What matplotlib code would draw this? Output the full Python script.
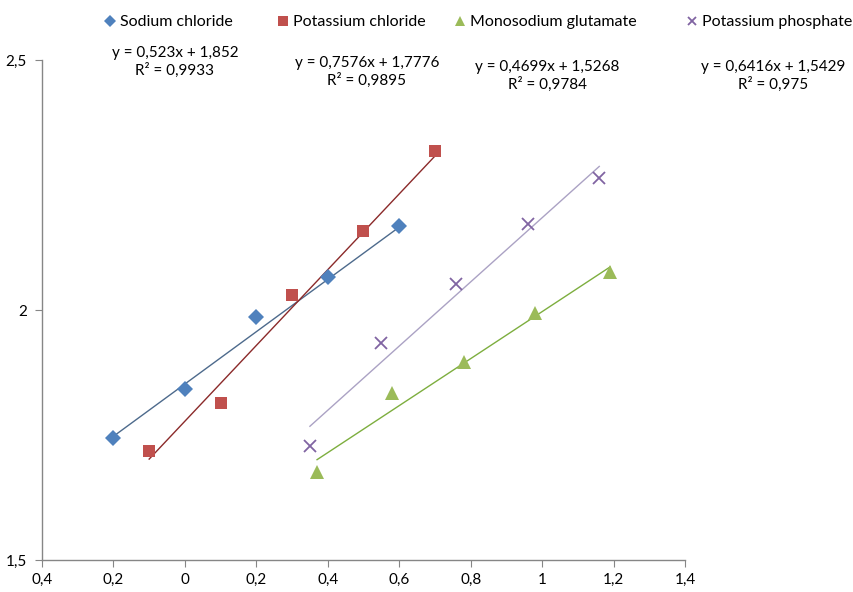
import matplotlib
matplotlib.use("Agg")
import matplotlib.pyplot as plt
import numpy as np

plt.rcParams['font.family'] = ['Lato', 'DejaVu Sans']

series_names = ["Sodium chloride", "Potassium chloride", "Monosodium glutamate", "Potassium phosphate"]
x_nacl = [-0.2, 0.0, 0.2, 0.4, 0.6]
y_nacl = [1.744, 1.842, 1.986, 2.066, 2.168]
x_kcl = [-0.1, 0.1, 0.3, 0.5, 0.7]
y_kcl = [1.718, 1.814, 2.030, 2.158, 2.318]
x_msg = [0.37, 0.58, 0.78, 0.98, 1.19]
y_msg = [1.676, 1.834, 1.896, 1.994, 2.076]
x_kp = [0.35, 0.55, 0.76, 0.96, 1.16]
y_kp = [1.728, 1.934, 2.052, 2.172, 2.264]
slopes = [0.523, 0.7576, 0.4699, 0.6416]
intercepts = [1.852, 1.7776, 1.5268, 1.5429]
eq_labels = ["y = 0,523x + 1,852\nR² = 0,9933",
             "y = 0,7576x + 1,7776\nR² = 0,9895",
             "y = 0,4699x + 1,5268\nR² = 0,9784",
             "y = 0,6416x + 1,5429\nR² = 0,975"]
xticks = [-0.4, -0.2, 0, 0.2, 0.4, 0.6, 0.8, 1, 1.2, 1.4]
xticklabels = ["0,4", "0,2", "0", "0,2", "0,4", "0,6", "0,8", "1", "1,2", "1,4"]
yticks = [1.5, 2, 2.5]
yticklabels = ["1,5", "2", "2,5"]

fig = plt.figure(figsize=(8.54, 5.92), dpi=100)
ax = fig.add_axes([42/854, 32/592, (685-42)/854, 500/592])

xs = [x_nacl, x_kcl, x_msg, x_kp]
ys = [y_nacl, y_kcl, y_msg, y_kp]
mcol = ["#4F81BD", "#C0504D", "#9BBB59", "#8064A2"]
lcol = ["#4D6A8C", "#8B2A2A", "#7DAE3E", "#ABA2C4"]
markers = ["D", "s", "^", "x"]
msz = [8, 9, 10, 8.5]

handles = []
for i in range(4):
    xx = np.array(xs[i])
    xl = np.array([xx.min(), xx.max()])
    ax.plot(xl, slopes[i]*xl + intercepts[i], color=lcol[i], lw=1.0, zorder=2)
    if markers[i] == "x":
        h, = ax.plot(xs[i], ys[i], ls="none", marker="x", ms=msz[i], mew=1.3,
                     color=mcol[i], zorder=3, label=series_names[i])
    else:
        h, = ax.plot(xs[i], ys[i], ls="none", marker=markers[i], ms=msz[i], mew=0,
                     color=mcol[i], zorder=3, label=series_names[i])
    handles.append(h)

ax.set_xlim(-0.4, 1.4)
ax.set_ylim(1.5, 2.5)
ax.set_xticks(xticks)
ax.set_xticklabels(xticklabels)
ax.set_yticks(yticks)
ax.set_yticklabels(yticklabels)
for s in ["top", "right"]:
    ax.spines[s].set_visible(False)
for s in ["left", "bottom"]:
    ax.spines[s].set_color("#868686")
    ax.spines[s].set_linewidth(1.0)
ax.tick_params(axis="both", colors="#868686", labelcolor="black", length=5, labelsize=11)
ax.tick_params(axis="x", pad=4)
ax.tick_params(axis="y", pad=6)

leg_x = [104, 277, 454, 686]
for h, lx in zip(handles, leg_x):
    lg = fig.legend(handles=[h], loc="center left", frameon=False,
                    bbox_to_anchor=(lx/854, 1 - 22/592), fontsize=11.5,
                    handlelength=0.7, handletextpad=0.3, borderpad=0,
                    borderaxespad=0, markerscale=0.75)

eq_pos = [(175, 62), (367, 72), (547, 76), (773, 76)]
for (px, py), t in zip(eq_pos, eq_labels):
    fig.text(px/854, 1 - py/592, t, ha="center", va="center", fontsize=11,
             linespacing=1.3)

fig.savefig("out.png", dpi=100)
